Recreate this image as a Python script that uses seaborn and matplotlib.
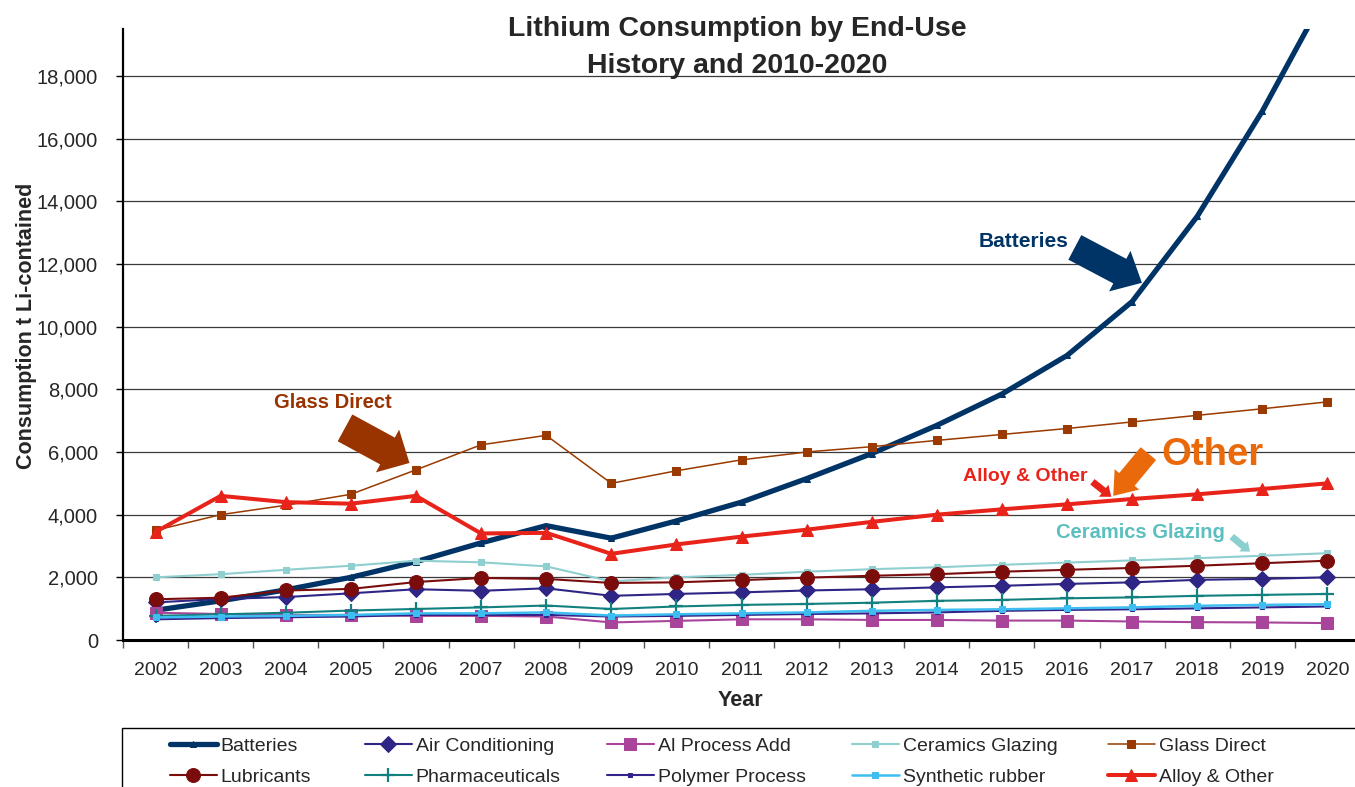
import numpy as np
import pandas as pd
import matplotlib
matplotlib.use('Agg')
import matplotlib.pyplot as plt
import seaborn as sns
from matplotlib.patches import Rectangle, ArrowStyle
from matplotlib.ticker import FixedLocator, FuncFormatter

# Data (t Li-contained)
years = list(range(2002, 2021))
batteries = [950, 1250, 1600, 2000, 2500, 3100, 3650, 3250, 3800, 4400, 5150, 5950, 6850, 7850, 9080, 10800, 13520, 16880, 20700]
air_conditioning = [1200, 1310, 1370, 1490, 1620, 1570, 1650, 1410, 1470, 1520, 1580, 1620, 1680, 1730, 1790, 1840, 1920, 1950, 2000]
al_process_add = [870, 830, 800, 800, 770, 770, 750, 560, 610, 660, 660, 640, 640, 620, 620, 590, 570, 560, 540]
ceramics_glazing = [2000, 2100, 2240, 2370, 2530, 2480, 2350, 1870, 2000, 2080, 2180, 2260, 2320, 2400, 2470, 2540, 2610, 2690, 2770]
glass_direct = [3500, 4000, 4300, 4650, 5430, 6230, 6530, 5000, 5400, 5750, 6000, 6170, 6370, 6560, 6750, 6960, 7170, 7380, 7600]
lubricants = [1300, 1350, 1580, 1630, 1850, 1980, 1950, 1820, 1840, 1910, 1990, 2050, 2100, 2180, 2240, 2300, 2370, 2450, 2530]
pharmaceuticals = [770, 820, 870, 940, 990, 1040, 1100, 990, 1070, 1120, 1150, 1190, 1250, 1280, 1330, 1360, 1410, 1440, 1470]
polymer_process = [660, 700, 725, 750, 800, 800, 800, 750, 770, 800, 830, 850, 880, 930, 960, 980, 1010, 1040, 1070]
synthetic_rubber = [720, 750, 770, 800, 850, 850, 880, 780, 820, 850, 880, 930, 960, 980, 1010, 1040, 1090, 1120, 1140]
alloy_other = [3450, 4600, 4400, 4350, 4600, 3400, 3420, 2750, 3050, 3300, 3520, 3770, 4000, 4170, 4330, 4500, 4650, 4820, 5000]

# name, values, color, marker, markersize, linewidth
series = [
    ('Batteries', batteries, '#003366', '^', 4, 3.8),
    ('Air Conditioning', air_conditioning, '#2E2585', 'D', 8, 1.5),
    ('Al Process Add', al_process_add, '#A8449A', 's', 9, 1.5),
    ('Ceramics Glazing', ceramics_glazing, '#8FCFCF', 's', 4, 1.5),
    ('Glass Direct', glass_direct, '#9A3A00', 's', 5.5, 1.1),
    ('Lubricants', lubricants, '#7B0C0C', 'o', 10, 1.5),
    ('Pharmaceuticals', pharmaceuticals, '#138080', '+', 10, 1.5),
    ('Polymer Process', polymer_process, '#33228A', 's', 3, 1.5),
    ('Synthetic rubber', synthetic_rubber, '#3DBDF0', 's', 4.5, 1.8),
    ('Alloy & Other', alloy_other, '#E8231A', '^', 9, 2.9),
]

sns.set_theme(style='white')
plt.rcParams['font.family'] = ['Liberation Sans', 'DejaVu Sans']

W, H = 1355, 787
fig = plt.figure(figsize=(W / 100, H / 100), dpi=100)
ax = fig.add_axes([123 / W, 147 / H, 1237 / W, 611 / H])

x_idx = np.arange(len(years))
handles = {}
for name, vals, color, marker, ms, lw in series:
    n_before = len(ax.lines)
    sns.lineplot(x=x_idx, y=vals, ax=ax, color=color, lw=lw, marker=marker,
                 markersize=ms, markeredgecolor=color,
                 markeredgewidth=1.6 if marker == '+' else 0.75,
                 errorbar=None, legend=False)
    line = ax.lines[n_before]
    line.set_label(name)
    handles[name] = line

ax.set_xlim(-0.5, len(years) - 0.5)
ax.set_ylim(0, 19500)

# axes styling
for s in ['top', 'right']:
    ax.spines[s].set_visible(False)
ax.spines['left'].set_linewidth(1.6)
ax.spines['left'].set_color('black')
ax.spines['bottom'].set_linewidth(2.2)
ax.spines['bottom'].set_color('black')

ax.yaxis.set_major_locator(FixedLocator(range(0, 19000, 2000)))
ax.yaxis.set_major_formatter(FuncFormatter(lambda v, p: f'{int(v):,}'))
ax.yaxis.grid(True, color='#3a3a3a', lw=0.9)
ax.set_axisbelow(True)
ax.tick_params(axis='y', which='major', direction='out', length=5, width=1,
               color='black', labelsize=14.5, pad=13, left=True)

ax.set_xticks(x_idx)
ax.set_xticklabels([str(y) for y in years])
ax.xaxis.set_minor_locator(FixedLocator(np.arange(-0.5, len(years), 1.0)))
ax.tick_params(axis='x', which='major', length=0, labelsize=14, pad=16)
ax.tick_params(axis='x', which='minor', direction='out', length=6, width=1,
               color='#555555', bottom=True)
ax.set_xlabel('')
ax.set_ylabel('')

# titles and axis labels
fig.text(737 / W, 1 - 29 / H, 'Lithium Consumption by End-Use', ha='center', va='center',
         fontsize=20.5, fontweight='bold')
fig.text(737 / W, 1 - 66 / H, 'History and 2010-2020', ha='center', va='center',
         fontsize=20.5, fontweight='bold')
fig.text(27 / W, 1 - 326 / H, 'Consumption t Li-contained', rotation=90, ha='center',
         va='center', fontsize=15.5, fontweight='bold')
fig.text(740 / W, 1 - 700 / H, 'Year', ha='center', va='center', fontsize=15.5,
         fontweight='bold')

# annotations
def block_arrow(tail, tip, color, hl, hw, tw):
    ax.annotate('', xy=tip, xytext=tail, xycoords='data', textcoords='data',
                arrowprops=dict(arrowstyle=ArrowStyle.Simple(head_length=hl, head_width=hw, tail_width=tw),
                                mutation_scale=1, color=color, shrinkA=0, shrinkB=0, lw=0),
                annotation_clip=False)

ax.text(13.33, 12720, 'Batteries', color='#003366', fontsize=15, fontweight='bold',
        ha='center', va='center')
block_arrow((14.12, 12530), (15.15, 11400), '#003366', 18, 33, 20)

ax.text(2.73, 7590, 'Glass Direct', color='#993300', fontsize=14.5, fontweight='bold',
        ha='center', va='center')
block_arrow((2.91, 6770), (3.90, 5650), '#993300', 18, 35, 22)

ax.text(13.36, 5210, 'Alloy & Other', color='#E8231A', fontsize=14, fontweight='bold',
        ha='center', va='center')
block_arrow((14.39, 5050), (14.68, 4570), '#E8231A', 7, 11, 5)

ax.text(16.23, 5910, 'Other', color='#EA6A0B', fontsize=27.5, fontweight='bold',
        ha='center', va='center')
block_arrow((15.25, 5950), (14.71, 4600), '#EA6A0B', 15.4, 23, 14.4)

ax.text(15.12, 3420, 'Ceramics Glazing', color='#5BBFBF', fontsize=14.5, fontweight='bold',
        ha='center', va='center')
block_arrow((16.53, 3300), (16.81, 2820), '#8CCFCF', 6, 9.5, 5)

# legend: box plus five columns
fig.add_artist(Rectangle((122 / W, -0.1), 1.0, (787 - 728) / H + 0.1,
                         transform=fig.transFigure, fill=False, ec='black', lw=1.0))
columns = [('Batteries', 'Lubricants'), ('Air Conditioning', 'Pharmaceuticals'),
           ('Al Process Add', 'Polymer Process'), ('Ceramics Glazing', 'Synthetic rubber'),
           ('Glass Direct', 'Alloy & Other')]
col_x = [170, 365, 607, 852, 1108]
for (a, b), cx in zip(columns, col_x):
    fig.legend(handles=[handles[a], handles[b]], labels=[a, b], loc='upper left',
               bbox_to_anchor=(cx / W, 1 - 737 / H), frameon=False, borderpad=0,
               borderaxespad=0, handlelength=2.4, handletextpad=0.2, labelspacing=0.72,
               fontsize=14, numpoints=1)

fig.savefig('out.png', dpi=100)
